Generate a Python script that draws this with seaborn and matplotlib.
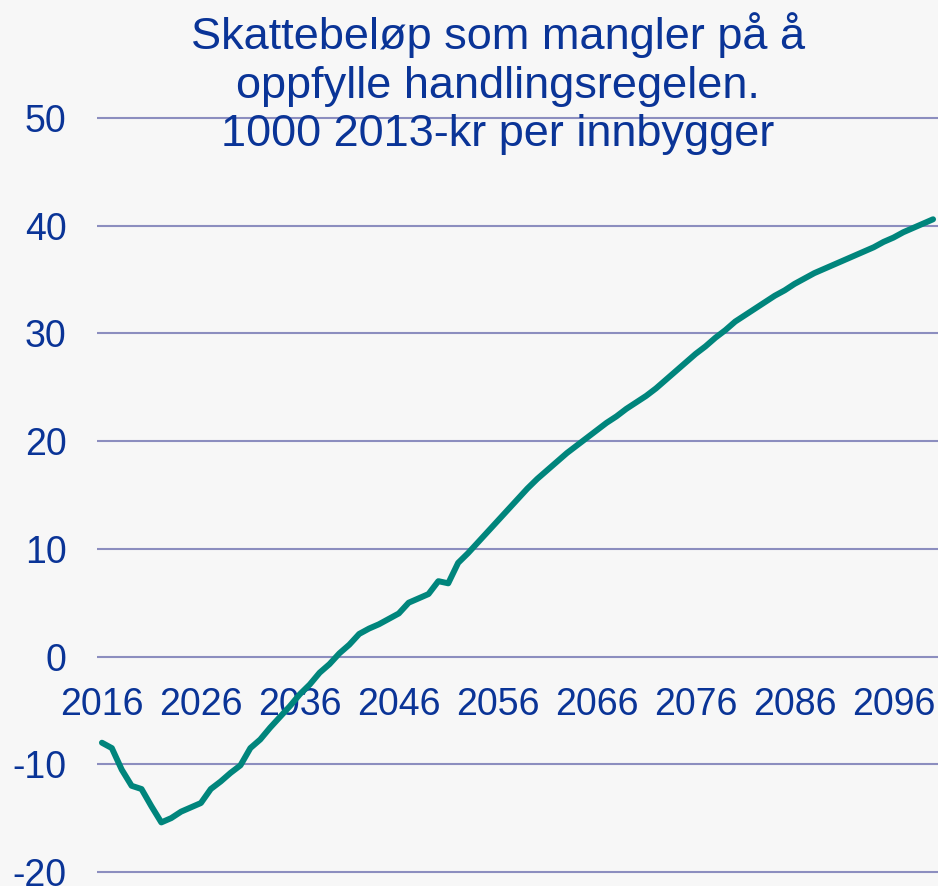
import numpy as np
import pandas as pd
import matplotlib
matplotlib.use("Agg")
import matplotlib.pyplot as plt
import seaborn as sns

# data (1000 2013-kr per innbygger)
years = list(range(2016, 2101))
values = [
    -8.0, -8.5, -10.5, -12.0, -12.3, -13.9, -15.4, -15.0, -14.4, -14.0,   # 2016-2025
    -13.6, -12.3, -11.6, -10.8, -10.1, -8.5, -7.7, -6.6, -5.6, -4.6,      # 2026-2035
    -3.5, -2.6, -1.5, -0.7, 0.3, 1.1, 2.1, 2.6, 3.0, 3.5,                 # 2036-2045
    4.0, 5.0, 5.4, 5.8, 7.0, 6.8, 8.7, 9.6, 10.6, 11.6,                   # 2046-2055
    12.6, 13.6, 14.6, 15.6, 16.5, 17.3, 18.1, 18.9, 19.6, 20.3,           # 2056-2065
    21.0, 21.7, 22.3, 23.0, 23.6, 24.2, 24.9, 25.7, 26.5, 27.3,           # 2066-2075
    28.1, 28.8, 29.6, 30.3, 31.1, 31.7, 32.3, 32.9, 33.5, 34.0,           # 2076-2085
    34.6, 35.1, 35.6, 36.0, 36.4, 36.8, 37.2, 37.6, 38.0, 38.5,           # 2086-2095
    38.9, 39.4, 39.8, 40.2, 40.6,                                         # 2096-2100
]
xtick_years = [2016, 2026, 2036, 2046, 2056, 2066, 2076, 2086, 2096]
ytick_vals = [-20, -10, 0, 10, 20, 30, 40, 50]
title = "Skattebeløp som mangler på å\noppfylle handlingsregelen.\n1000 2013-kr per innbygger"

df = pd.DataFrame({"year": years, "value": values})

sns.set_style("white")
plt.rcParams["font.family"] = ["Liberation Sans", "DejaVu Sans"]

text_color = "#0A3497"
grid_color = "#8C8EBF"
line_color = "#00857C"
bg = "#F7F7F7"

W, H = 938, 886
fig = plt.figure(figsize=(W / 100, H / 100), dpi=100, facecolor=bg)
# axes placed in pixel terms
left_px, right_px = 97, 938
top_px, bottom_px = 110.5, 879.5
ax = fig.add_axes([left_px / W, 1 - bottom_px / H,
                   (right_px - left_px) / W, (bottom_px - top_px) / H])
ax.set_facecolor(bg)

for v in ytick_vals:
    ax.axhline(v, color=grid_color, linewidth=1.5, zorder=1)

sns.lineplot(data=df, x="year", y="value", ax=ax, color=line_color,
             linewidth=4.3, zorder=3, solid_capstyle="round")

ax.set_xlim(2015.5, 2100.5)
ax.set_ylim(-20.7, 50.7)
ax.set_yticks(ytick_vals)
ax.set_yticklabels([str(v) for v in ytick_vals])
ax.set_xticks(xtick_years)
ax.set_xticklabels([str(y) for y in xtick_years])

for s in ax.spines.values():
    s.set_visible(False)
ax.spines["bottom"].set_position(("data", 0))

ax.tick_params(axis="y", length=0, pad=22, labelsize=27, labelcolor=text_color)
ax.tick_params(axis="x", length=0, pad=22, labelsize=27, labelcolor=text_color)
ax.set_xlabel("")
ax.set_ylabel("")

fig.text(498 / W, 1 - 12 / H, title, ha="center", va="top",
         fontsize=32.5, color=text_color, linespacing=1.24)

fig.savefig("out.png", dpi=100, facecolor=bg)
